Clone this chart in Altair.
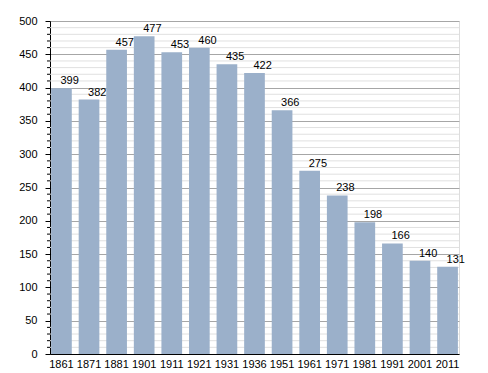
import altair as alt
import pandas as pd

years = ["1861", "1871", "1881", "1901", "1911", "1921", "1931", "1936",
         "1951", "1961", "1971", "1981", "1991", "2001", "2011"]
population = [399, 382, 457, 477, 453, 460, 435, 422, 366, 275, 238, 198, 166, 140, 131]
major_ticks = [0, 50, 100, 150, 200, 250, 300, 350, 400, 450, 500]
minor_ticks = [v for v in range(0, 501, 10) if v % 50 != 0]

W, H = 409, 333
df = pd.DataFrame({"year": years, "pop": population})
minor_df = pd.DataFrame({"v": minor_ticks})

FONT = "Liberation Sans"
yscale = alt.Scale(domain=[0, 500], nice=False)
yaxis = alt.Axis(values=major_ticks, labelFontSize=11,
                 labelFont=FONT, labelColor="black", domainColor="black",
                 tickColor="black", tickSize=5, labelPadding=8,
                 grid=True, gridColor="#a6a6a6", title=None)

minor_grid = alt.Chart(minor_df).mark_rule(color="#e0e0e0", strokeWidth=1).encode(
    y=alt.Y("v:Q", scale=yscale, axis=yaxis, title=None),
    x=alt.value(0), x2=alt.value(W),
)
minor_tick = alt.Chart(minor_df).mark_rule(color="black", strokeWidth=1).encode(
    y=alt.Y("v:Q", scale=yscale, axis=yaxis, title=None),
    x=alt.value(-3), x2=alt.value(0),
)

bars = alt.Chart(df).mark_bar(color="#9bb0ca").encode(
    x=alt.X("year:N", sort=None, title=None,
            scale=alt.Scale(paddingInner=0.25, paddingOuter=0.04),
            axis=alt.Axis(labelAngle=0, ticks=False, domainColor="black",
                          labelColor="black", labelFontSize=11, labelFont=FONT,
                          labelPadding=4, grid=False)),
    y=alt.Y("pop:Q", scale=yscale, title=None, axis=yaxis),
)

labels = alt.Chart(df).mark_text(align="left", baseline="alphabetic", dx=-1, dy=-4,
                                 fontSize=11, font=FONT, color="black").encode(
    x=alt.X("year:N", sort=None),
    y=alt.Y("pop:Q", axis=yaxis),
    text=alt.Text("pop:Q"),
)

chart = alt.layer(minor_grid, minor_tick, bars, labels).properties(
    width=W, height=H,
    autosize=alt.AutoSizeParams(type="none"),
    padding={"left": 42, "top": 13, "right": 20, "bottom": 30},
).configure_view(stroke=None).configure(background="white")

chart.save("out.html", embed_options={"renderer": "svg", "actions": False})
